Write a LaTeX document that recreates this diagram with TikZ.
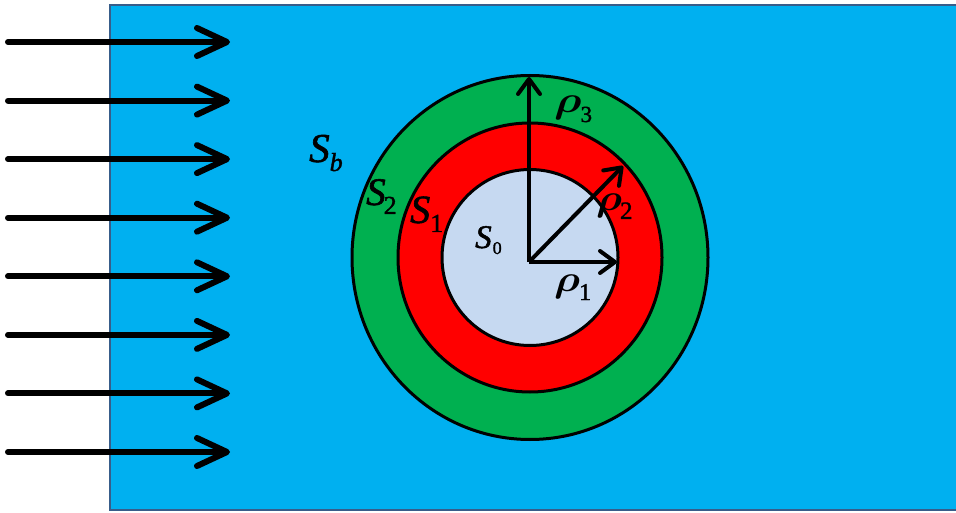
\documentclass[tikz,border=0pt]{standalone}
\usepackage{bm}
\usepackage{fontspec}
\setmainfont{Liberation Serif}
\newfontfamily\labfont{Liberation Serif}[FakeBold=1.5]
\usetikzlibrary{arrows.meta}
\definecolor{bgblue}{HTML}{00B0F0}
\definecolor{rimblue}{HTML}{385D8A}
\definecolor{ringgreen}{HTML}{00B050}
\definecolor{ringred}{HTML}{FF0000}
\definecolor{corefill}{HTML}{C6D9F1}
\tikzset{
  flow/.style={line width=6pt, line cap=round, -{Straight Barb[length=30pt,width=28pt,round]}},
  radius arrow/.style={line width=4pt, -{Straight Barb[length=15pt,width=22pt,round]}},
  ring/.style={draw=black, line width=3pt},
  lab/.style={inner sep=0pt, anchor=base west, text=black, font=\labfont}
}
\newcommand\bigit[2]{{\fontsize{#1}{#1}\selectfont\itshape #2}}
\newcommand\rhoglyph[1]{{\fontsize{24.88}{24.88}\selectfont\scalebox{#1}[1.5]{$\bm{\rho}$}}}
\begin{document}
\begin{tikzpicture}[x=1pt,y=-1pt]
\useasboundingbox (0,0) rectangle (956,513);
\clip (0,0) rectangle (956,513);
% medium
\draw[draw=rimblue, line width=2.5pt, fill=bgblue] (110,5) rectangle (970,510);
% incoming flow arrows
\foreach \i/\yy in {1/42,2/100.6,3/159.1,4/217.7,5/276.3,6/334.9,7/393.4,8/452}{
  \coordinate (s\i) at (8,\yy);
  \coordinate (e\i) at (230,\yy);
  \draw[flow] (s\i) -- (e\i);
}
% rings
\coordinate (C) at (530,257.5);
\draw[ring, fill=ringgreen] (C) ellipse [x radius=178pt, y radius=182pt];
\draw[ring, fill=ringred] (C) ellipse [x radius=132pt, y radius=134.5pt];
\draw[ring, fill=corefill] (C) ellipse [x radius=88pt, y radius=88pt];
% radii
\coordinate (O) at (529,262);
\coordinate (r1) at (617,262);
\coordinate (r2) at (623,166);
\coordinate (r3) at (529,77);
\draw[radius arrow] (O) -- (r1);
\draw[radius arrow] (O) -- (r2);
\draw[radius arrow] (O) -- (r3);
% labels
\node[lab] (Sb) at (309,162) {\bigit{41}{S}\kern0pt\raisebox{-9pt}{\fontsize{26}{26}\selectfont\itshape b}};
\node[lab] (S2) at (366,205) {\bigit{39}{S}\kern-2pt\raisebox{-9pt}{\fontsize{26}{26}\selectfont 2}};
\node[lab] (S1) at (410,223) {\bigit{40}{S}\kern0pt\raisebox{-9pt}{\fontsize{26}{26}\selectfont 1}};
\node[lab] (S0) at (475,248) {\bigit{33}{S}\kern1pt\raisebox{-6pt}{\fontsize{18}{18}\selectfont 0}};
\node[lab] (p3) at (554,113) {\rhoglyph{1.8}\kern-1pt\raisebox{-9pt}{\fontsize{23}{23}\selectfont 3}};
\node[lab] (p2) at (596,211) {\rhoglyph{1.7}\kern-2pt\raisebox{-8pt}{\fontsize{25}{25}\selectfont 2}};
\node[lab] (p1) at (554,291) {\rhoglyph{1.7}\kern-1pt\raisebox{-9pt}{\fontsize{24}{24}\selectfont 1}};
\end{tikzpicture}
\end{document}
